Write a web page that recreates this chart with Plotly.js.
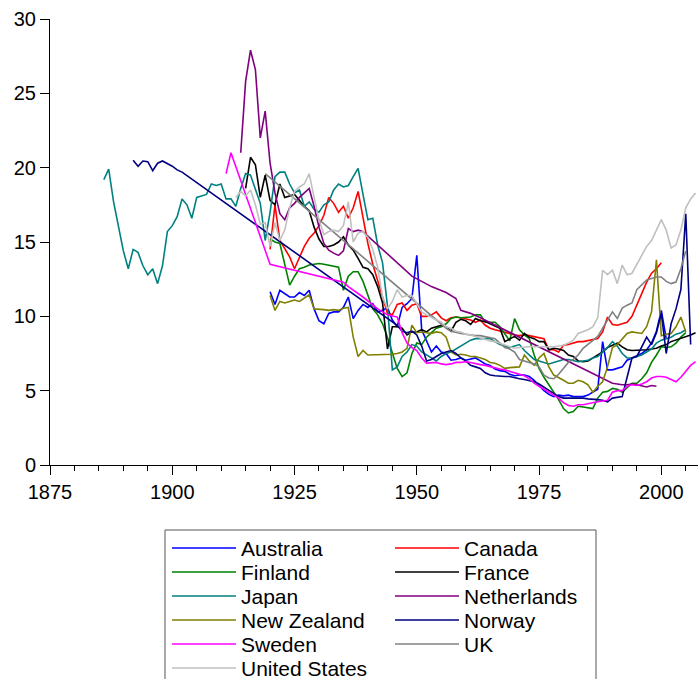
<!DOCTYPE html>
<html>
<head>
<meta charset="utf-8">
<script src="https://cdn.plot.ly/plotly-3.0.1.min.js"></script>
<style>html,body{margin:0;padding:0;background:#fff;}#chart{width:698px;height:679px;}</style>
</head>
<body>
<div id="chart"></div>
<script>
// ---- data: [year, value] ----
const australia = [[1920,11.65],[1921,10.8],[1922,11.75],[1923,11.5],[1924,11.3],[1925,11.3],[1926,11.6],[1927,11.4],[1928,11.75],[1929,10.5],[1930,9.7],[1931,9.5],[1932,10.2],[1933,10.3],[1934,10.3],[1935,10.6],[1936,11.3],[1937,9.85],[1938,10.4],[1939,10.8],[1940,10.6],[1941,10.85],[1942,10.3],[1943,10.4],[1944,10.6],[1945,9.75],[1946,9.3],[1947,10.6],[1948,10.85],[1949,11.2],[1950,14.1],[1951,9.1],[1952,8.4],[1953,7.6],[1954,8.0],[1955,7.6],[1956,7.5],[1957,7.05],[1958,7.1],[1959,7.2],[1960,7.05],[1961,7.1],[1962,7.2],[1963,7.0],[1964,6.8],[1965,6.7],[1966,6.45],[1967,6.35],[1968,6.3],[1969,6.1],[1970,6.0],[1971,6.05],[1972,6.05],[1973,5.95],[1974,5.7],[1975,5.35],[1976,5.0],[1977,4.75],[1978,4.6],[1979,4.7],[1980,4.65],[1981,4.7],[1982,4.6],[1983,4.6],[1984,4.6],[1985,4.7],[1986,4.9],[1987,5.1],[1988,8.3],[1989,6.4],[1990,6.4],[1991,6.5],[1992,6.6],[1993,7.05],[1994,7.2],[1995,7.3],[1996,7.5],[1997,7.75],[1998,8.2],[1999,9.0],[2000,10.4],[2001,8.5]];
const canada = [[1920,14.5],[1921,17.5],[1922,15.1],[1923,14.5],[1924,14.0],[1925,13.2],[1926,14.0],[1927,14.7],[1928,15.25],[1929,15.6],[1930,16.1],[1931,16.8],[1932,18.0],[1933,17.6],[1934,17.0],[1935,17.4],[1936,16.6],[1937,17.3],[1938,18.4],[1939,16.7],[1940,14.9],[1941,13.5],[1942,12.4],[1943,11.2],[1944,10.2],[1945,10.1],[1946,10.8],[1947,10.9],[1948,10.4],[1949,10.75],[1950,10.85],[1951,10.0],[1952,10.0],[1953,10.1],[1954,10.3],[1955,9.9],[1956,9.7],[1957,9.9],[1958,9.95],[1959,9.9],[1960,9.85],[1961,9.75],[1962,9.6],[1963,9.75],[1964,9.4],[1965,9.2],[1966,9.1],[1967,9.0],[1968,8.95],[1969,8.85],[1970,8.75],[1971,8.7],[1972,8.75],[1973,8.7],[1974,8.65],[1975,8.6],[1976,8.5],[1977,7.75],[1978,7.75],[1979,7.6],[1980,8.05],[1981,8.1],[1982,8.2],[1983,8.3],[1984,8.3],[1985,8.35],[1986,8.45],[1987,8.5],[1988,8.95],[1989,9.95],[1990,9.45],[1991,9.4],[1992,9.5],[1993,9.6],[1994,10.0],[1995,10.8],[1996,11.6],[1997,12.3],[1998,12.9],[1999,13.2],[2000,13.6]];
const finland = [[1920,15.2],[1921,15.0],[1922,14.9],[1923,13.5],[1924,12.1],[1925,12.7],[1926,13.2],[1927,13.3],[1928,13.45],[1929,13.5],[1930,13.55],[1931,13.5],[1932,13.45],[1933,13.4],[1934,13.3],[1935,11.75],[1936,12.7],[1937,13.0],[1938,13.0],[1939,12.35],[1940,11.4],[1941,10.5],[1942,10.1],[1943,9.5],[1944,8.6],[1945,7.5],[1946,6.5],[1947,5.95],[1948,6.2],[1949,7.5],[1950,8.2],[1951,8.1],[1952,8.6],[1953,8.9],[1954,9.2],[1955,9.3],[1956,9.5],[1957,9.85],[1958,9.95],[1959,9.9],[1960,9.95],[1961,9.95],[1962,10.1],[1963,10.1],[1964,9.6],[1965,9.6],[1966,9.6],[1967,9.3],[1968,8.8],[1969,8.35],[1970,9.85],[1971,9.1],[1972,8.75],[1973,8.5],[1974,7.4],[1975,6.5],[1976,5.9],[1977,5.4],[1978,4.9],[1979,4.4],[1980,3.8],[1981,3.5],[1982,3.6],[1983,3.95],[1984,3.9],[1985,3.85],[1986,3.8],[1987,4.5],[1988,4.9],[1989,4.95],[1990,5.15],[1991,5.1],[1992,4.9],[1993,5.2],[1994,5.5],[1995,5.5],[1996,5.8],[1997,6.2],[1998,6.9],[1999,7.4],[2000,7.95],[2001,7.9],[2002,7.95],[2003,8.2],[2004,8.6],[2005,8.9]];
const france = [[1915,18.6],[1916,20.7],[1917,20.2],[1918,18.0],[1919,19.5],[1920,17.8],[1921,17.5],[1922,18.9],[1923,18.0],[1924,18.1],[1925,18.2],[1926,17.8],[1927,17.4],[1928,17.1],[1929,16.0],[1930,15.2],[1931,14.7],[1932,14.7],[1933,14.8],[1934,15.0],[1935,15.35],[1936,14.8],[1937,14.45],[1938,13.9],[1939,13.3],[1940,13.2],[1941,12.8],[1942,12.0],[1943,10.9],[1944,7.8],[1945,9.3],[1946,9.3],[1947,9.2],[1948,8.75],[1949,8.95],[1950,8.95],[1951,9.1],[1952,8.95],[1953,9.2],[1954,9.3],[1955,9.4],[1956,9.3],[1957,9.0],[1958,9.6],[1959,9.8],[1960,9.7],[1961,9.45],[1962,9.85],[1963,9.7],[1964,9.65],[1965,9.5],[1966,9.3],[1967,9.2],[1968,8.3],[1969,8.5],[1970,8.65],[1971,8.4],[1972,8.85],[1973,8.6],[1974,8.5],[1975,8.3],[1976,8.3],[1977,7.75],[1978,7.85],[1979,7.8],[1980,7.7],[1981,7.4],[1982,7.3],[1983,7.0],[1984,6.95],[1985,7.0],[1986,7.2],[1987,7.4],[1988,7.6],[1989,7.9],[1990,8.05],[1991,8.2],[1992,7.95],[1993,7.75],[1994,7.7],[1995,7.7],[1996,7.7],[1997,7.75],[1998,7.8],[1999,7.85],[2000,8.0],[2001,8.1],[2002,8.3],[2003,8.4],[2004,8.5],[2005,8.65],[2006,8.75],[2007,8.9]];
const japan = [[1886,19.2],[1887,19.9],[1888,17.7],[1889,16.0],[1890,14.4],[1891,13.2],[1892,14.5],[1893,14.3],[1894,13.4],[1895,12.8],[1896,13.2],[1897,12.2],[1898,13.4],[1899,15.7],[1900,16.1],[1901,16.7],[1902,17.9],[1903,17.5],[1904,16.6],[1905,18.0],[1906,18.1],[1907,18.2],[1908,18.9],[1909,18.8],[1910,18.9],[1911,17.9],[1912,17.9],[1913,17.4],[1914,18.6],[1915,19.6],[1916,19.5],[1917,18.5],[1918,17.6],[1919,15.1],[1920,17.0],[1921,19.4],[1922,19.7],[1923,19.7],[1924,18.9],[1925,18.3],[1926,18.5],[1927,17.4],[1928,17.7],[1929,17.2],[1930,17.0],[1931,17.5],[1932,17.7],[1933,18.5],[1934,18.9],[1935,18.7],[1936,18.8],[1937,19.4],[1938,19.95],[1939,18.2],[1940,16.5],[1941,16.6],[1942,14.8],[1943,13.6],[1944,10.7],[1945,6.4],[1946,6.6],[1947,7.3],[1948,7.6],[1949,8.1],[1950,8.0],[1951,7.6],[1952,7.4],[1953,7.2],[1954,7.0],[1955,7.3],[1956,7.5],[1957,7.6],[1958,7.8],[1959,8.0],[1960,8.2],[1961,8.4],[1962,8.5],[1963,8.5],[1964,8.5],[1965,8.5],[1966,8.3],[1967,8.1],[1968,8.0],[1969,7.9],[1970,8.0],[1971,8.1],[1972,7.7],[1973,7.4],[1974,7.1],[1975,7.0],[1976,6.9],[1977,6.8],[1978,6.9],[1979,7.0],[1980,7.1],[1981,7.1],[1982,7.0],[1983,6.95],[1984,7.0],[1985,7.05],[1986,7.2],[1987,7.3],[1988,7.6],[1989,7.9],[1990,8.3],[1991,8.0],[1992,7.5],[1993,7.2],[1994,7.2],[1995,7.3],[1996,7.4],[1997,7.6],[1998,7.8],[1999,8.2],[2000,8.4],[2001,8.5],[2002,8.6],[2003,8.8],[2004,8.9],[2005,9.1]];
const netherlands = [[1914,21.0],[1915,25.8],[1916,27.9],[1917,26.6],[1918,22.0],[1919,23.8],[1920,20.3],[1921,18.3],[1922,16.9],[1923,16.5],[1924,17.3],[1925,17.6],[1926,18.0],[1927,18.3],[1928,18.6],[1929,17.4],[1930,16.0],[1931,14.9],[1932,14.45],[1933,14.25],[1934,14.1],[1935,14.4],[1936,15.9],[1937,15.7],[1938,15.8],[1939,15.7],[1940,15.4],[1949,12.7],[1953,12.0],[1956,11.6],[1958,11.2],[1959,10.4],[1961,10.2],[1963,9.9],[1990,5.5],[1991,5.45],[1992,5.4],[1993,5.4],[1994,5.45],[1995,5.4],[1996,5.3],[1997,5.25],[1998,5.35],[1999,5.3]];
const newZealand = [[1920,11.4],[1921,10.4],[1922,11.0],[1923,10.9],[1924,11.0],[1925,11.1],[1926,11.0],[1927,11.2],[1928,11.45],[1929,10.5],[1930,10.5],[1931,10.45],[1932,10.4],[1933,10.45],[1934,10.4],[1935,10.55],[1936,10.6],[1937,8.6],[1938,7.3],[1939,7.7],[1940,7.4],[1941,7.4],[1942,7.4],[1943,7.4],[1944,7.4],[1945,7.45],[1946,7.5],[1947,7.6],[1948,7.85],[1949,9.4],[1950,8.9],[1951,8.95],[1952,8.9],[1953,8.85],[1954,8.95],[1955,8.9],[1956,8.6],[1957,7.6],[1958,7.4],[1959,7.45],[1960,7.4],[1961,7.3],[1962,7.3],[1963,7.2],[1964,7.1],[1965,6.9],[1966,6.85],[1967,6.7],[1968,6.5],[1969,6.55],[1970,6.6],[1971,6.6],[1972,7.4],[1973,7.0],[1974,6.7],[1975,7.2],[1976,7.5],[1977,6.6],[1978,6.05],[1979,5.9],[1980,5.7],[1981,5.5],[1982,5.5],[1983,5.7],[1984,5.6],[1985,5.4],[1986,4.9],[1987,5.3],[1988,5.6],[1989,6.6],[1990,7.9],[1991,8.1],[1992,8.5],[1993,8.85],[1994,8.95],[1995,8.9],[1996,8.85],[1997,9.3],[1998,10.3],[1999,13.8],[2000,8.7],[2001,8.8],[2002,8.85],[2003,9.3],[2004,9.95],[2005,8.95]];
const norway = [[1892,20.5],[1893,20.1],[1894,20.45],[1895,20.4],[1896,19.8],[1897,20.3],[1898,20.45],[1899,20.3],[1900,20.1],[1901,19.85],[1902,19.7],[1946,9.4],[1947,9.0],[1948,8.9],[1949,9.0],[1950,8.75],[1951,8.0],[1952,7.0],[1953,7.1],[1954,7.3],[1955,7.5],[1956,7.6],[1957,7.7],[1958,7.5],[1959,7.2],[1960,7.0],[1961,6.7],[1962,6.6],[1963,6.5],[1964,6.2],[1965,6.05],[1966,6.0],[1967,5.95],[1968,5.95],[1969,5.95],[1970,5.85],[1971,5.8],[1972,5.75],[1973,5.7],[1974,5.6],[1975,5.45],[1976,5.25],[1977,5.05],[1978,4.8],[1979,4.6],[1980,4.5],[1981,4.5],[1982,4.55],[1983,4.5],[1984,4.5],[1985,4.45],[1986,4.45],[1987,4.4],[1988,4.35],[1989,4.25],[1990,4.5],[1991,4.55],[1992,4.6],[1993,5.9],[1994,7.2],[1995,7.3],[1996,8.0],[1997,8.6],[1998,8.1],[1999,8.9],[2000,10.2],[2001,7.5],[2002,9.5],[2003,10.5],[2004,11.8],[2005,16.9],[2006,8.1]];
const sweden = [[1911,19.6],[1912,21.0],[1920,13.5],[1935,12.3],[1936,12.0],[1939,11.3],[1942,10.5],[1944,10.1],[1946,9.95],[1947,8.9],[1948,8.2],[1949,7.9],[1950,7.7],[1951,7.2],[1952,6.85],[1953,6.85],[1954,6.9],[1955,6.8],[1956,6.75],[1957,6.8],[1958,6.9],[1959,6.9],[1960,6.95],[1961,6.9],[1962,6.8],[1963,6.75],[1964,6.7],[1965,6.6],[1966,6.5],[1967,6.45],[1968,6.4],[1969,6.3],[1970,6.25],[1971,6.15],[1972,6.0],[1973,5.8],[1974,5.5],[1975,5.3],[1976,5.1],[1977,4.9],[1978,4.7],[1979,4.5],[1980,4.2],[1981,4.0],[1982,3.95],[1983,4.05],[1984,4.05],[1985,4.1],[1986,4.2],[1987,4.25],[1988,4.3],[1989,4.35],[1990,4.9],[1991,5.0],[1992,5.0],[1993,5.3],[1994,5.4],[1995,5.35],[1996,5.45],[1997,5.6],[1998,5.85],[1999,5.95],[2000,5.95],[2001,5.9],[2002,5.75],[2003,5.6],[2004,5.9],[2005,6.3],[2006,6.7],[2007,6.95]];
const uk = [[1919,19.6],[1955,9.5],[1956,9.2],[1957,9.0],[1958,8.9],[1959,8.85],[1960,8.8],[1961,8.75],[1962,8.7],[1963,8.7],[1964,8.65],[1965,8.6],[1966,8.5],[1967,8.2],[1968,7.9],[1969,7.8],[1970,7.6],[1971,7.1],[1972,7.0],[1973,6.95],[1974,6.8],[1975,6.6],[1976,6.05],[1977,5.85],[1978,5.8],[1979,6.1],[1980,6.5],[1981,6.9],[1982,7.1],[1983,7.4],[1984,7.85],[1985,8.1],[1986,8.4],[1987,8.65],[1988,9.2],[1989,9.75],[1990,10.3],[1991,9.85],[1992,10.55],[1993,10.75],[1994,10.9],[1995,11.8],[1996,12.1],[1997,12.45],[1998,12.55],[1999,12.65],[2000,12.65],[2001,12.35],[2002,12.2],[2003,12.3],[2004,13.2],[2005,14.4]];
const unitedStates = [[1913,18.0],[1914,18.4],[1915,18.1],[1916,18.5],[1917,17.5],[1918,16.2],[1919,16.3],[1920,14.7],[1921,16.3],[1922,15.1],[1923,15.8],[1924,17.3],[1925,18.4],[1926,18.7],[1927,18.9],[1928,19.6],[1929,18.0],[1930,16.5],[1931,15.5],[1932,15.7],[1933,15.8],[1934,15.7],[1935,16.1],[1936,17.7],[1937,15.0],[1938,15.6],[1939,15.7],[1940,15.3],[1941,14.5],[1942,13.3],[1943,11.3],[1944,10.5],[1945,11.0],[1946,11.8],[1947,11.3],[1948,11.4],[1949,11.4],[1950,10.8],[1951,10.3],[1952,10.1],[1953,9.9],[1954,9.75],[1955,9.6],[1956,9.3],[1957,9.2],[1958,9.0],[1959,8.95],[1960,8.8],[1961,8.75],[1962,8.65],[1963,8.55],[1964,8.4],[1965,8.35],[1966,8.3],[1967,8.2],[1968,8.1],[1969,7.95],[1970,7.85],[1971,7.9],[1972,7.95],[1973,7.95],[1974,7.95],[1975,7.95],[1976,7.9],[1977,7.95],[1978,7.95],[1979,8.0],[1980,8.05],[1981,8.2],[1982,8.4],[1983,8.85],[1984,8.95],[1985,9.1],[1986,9.3],[1987,9.9],[1988,13.1],[1989,12.8],[1990,13.1],[1991,12.2],[1992,13.45],[1993,12.8],[1994,12.9],[1995,13.5],[1996,14.1],[1997,14.7],[1998,15.1],[1999,15.8],[2000,16.5],[2001,15.8],[2002,14.6],[2003,14.8],[2004,15.8],[2005,17.3],[2006,17.9],[2007,18.3]];

const countryNames = ['Australia','Canada','Finland','France','Japan','Netherlands','New Zealand','Norway','Sweden','UK','United States'];
const countrySeries = [australia, canada, finland, france, japan, netherlands, newZealand, norway, sweden, uk, unitedStates];
const countryColors = ['#0000FF','#FF0000','#008000','#000000','#008080','#800080','#808000','#000080','#FF00FF','#808080','#C0C0C0'];

const xTickVals = [1875, 1900, 1925, 1950, 1975, 2000];
const yTickVals = [0, 5, 10, 15, 20, 25, 30];

// ---- layout geometry (pixels) ----
const W = 698, H = 679;
const M = {l: 50, r: 0, t: 19, b: 214};
const plotW = W - M.l - M.r, plotH = H - M.t - M.b;
const px2x = p => (p - M.l) / plotW;
const py2y = p => (H - M.b - p) / plotH;

const legendFont = 21;
const itemH = legendFont * 1.3 + 3;
const colX = [167, 390];
const rowCenters = [548, 572, 596, 620, 644, 668];

const traces = [];
const layout = {
  width: W, height: H,
  margin: {l: M.l, r: M.r, t: M.t, b: M.b, pad: 0, autoexpand: false},
  paper_bgcolor: '#ffffff', plot_bgcolor: '#ffffff',
  font: {family: '"Liberation Sans", Arial, sans-serif', size: 20, color: '#000'},
  showlegend: true,
  xaxis: {
    range: [1875, 2007.5], tickmode: 'array', tickvals: xTickVals, ticktext: xTickVals.map(String),
    ticks: 'outside', ticklen: 9, tickwidth: 1, tickcolor: '#000',
    showline: true, linecolor: '#000', linewidth: 1, showgrid: false, zeroline: false,
    tickfont: {size: 20, color: '#000'},
    minor: {tick0: 1875, dtick: 5, ticks: 'outside', ticklen: 5, tickwidth: 1, tickcolor: '#000', showgrid: false}
  },
  yaxis: {
    range: [0, 30], tickmode: 'array', tickvals: yTickVals, ticktext: yTickVals.map(String),
    ticks: 'outside', ticklen: 9, tickwidth: 1, tickcolor: '#000',
    showline: true, linecolor: '#000', linewidth: 1, showgrid: false, zeroline: false,
    tickfont: {size: 20, color: '#000'}
  },
  shapes: [{
    type: 'rect', xref: 'paper', yref: 'paper', layer: 'above',
    x0: px2x(165), x1: px2x(596), y0: py2y(530), y1: py2y(720),
    line: {color: '#555555', width: 1}, fillcolor: 'rgba(0,0,0,0)'
  }]
};

countryNames.forEach((name, i) => {
  const legendId = i === 0 ? 'legend' : 'legend' + (i + 1);
  const data = countrySeries[i];
  traces.push({
    type: 'scatter', mode: 'lines', name: name,
    x: data.map(d => d[0]), y: data.map(d => d[1]),
    line: {color: countryColors[i], width: 1.6},
    hoverinfo: 'skip', legend: legendId
  });
  const col = i % 2, row = Math.floor(i / 2);
  const top = rowCenters[row] - 5 - itemH / 2;
  layout[legendId] = {
    x: px2x(colX[col]), xanchor: 'left', y: py2y(top), yanchor: 'top',
    bgcolor: 'rgba(0,0,0,0)', borderwidth: 0, itemwidth: 64,
    font: {size: legendFont, color: '#000', family: '"Liberation Sans", Arial, sans-serif'},
    orientation: 'v', traceorder: 'normal'
  };
});

Plotly.newPlot('chart', traces, layout, {staticPlot: true, displayModeBar: false});
</script>
</body>
</html>
